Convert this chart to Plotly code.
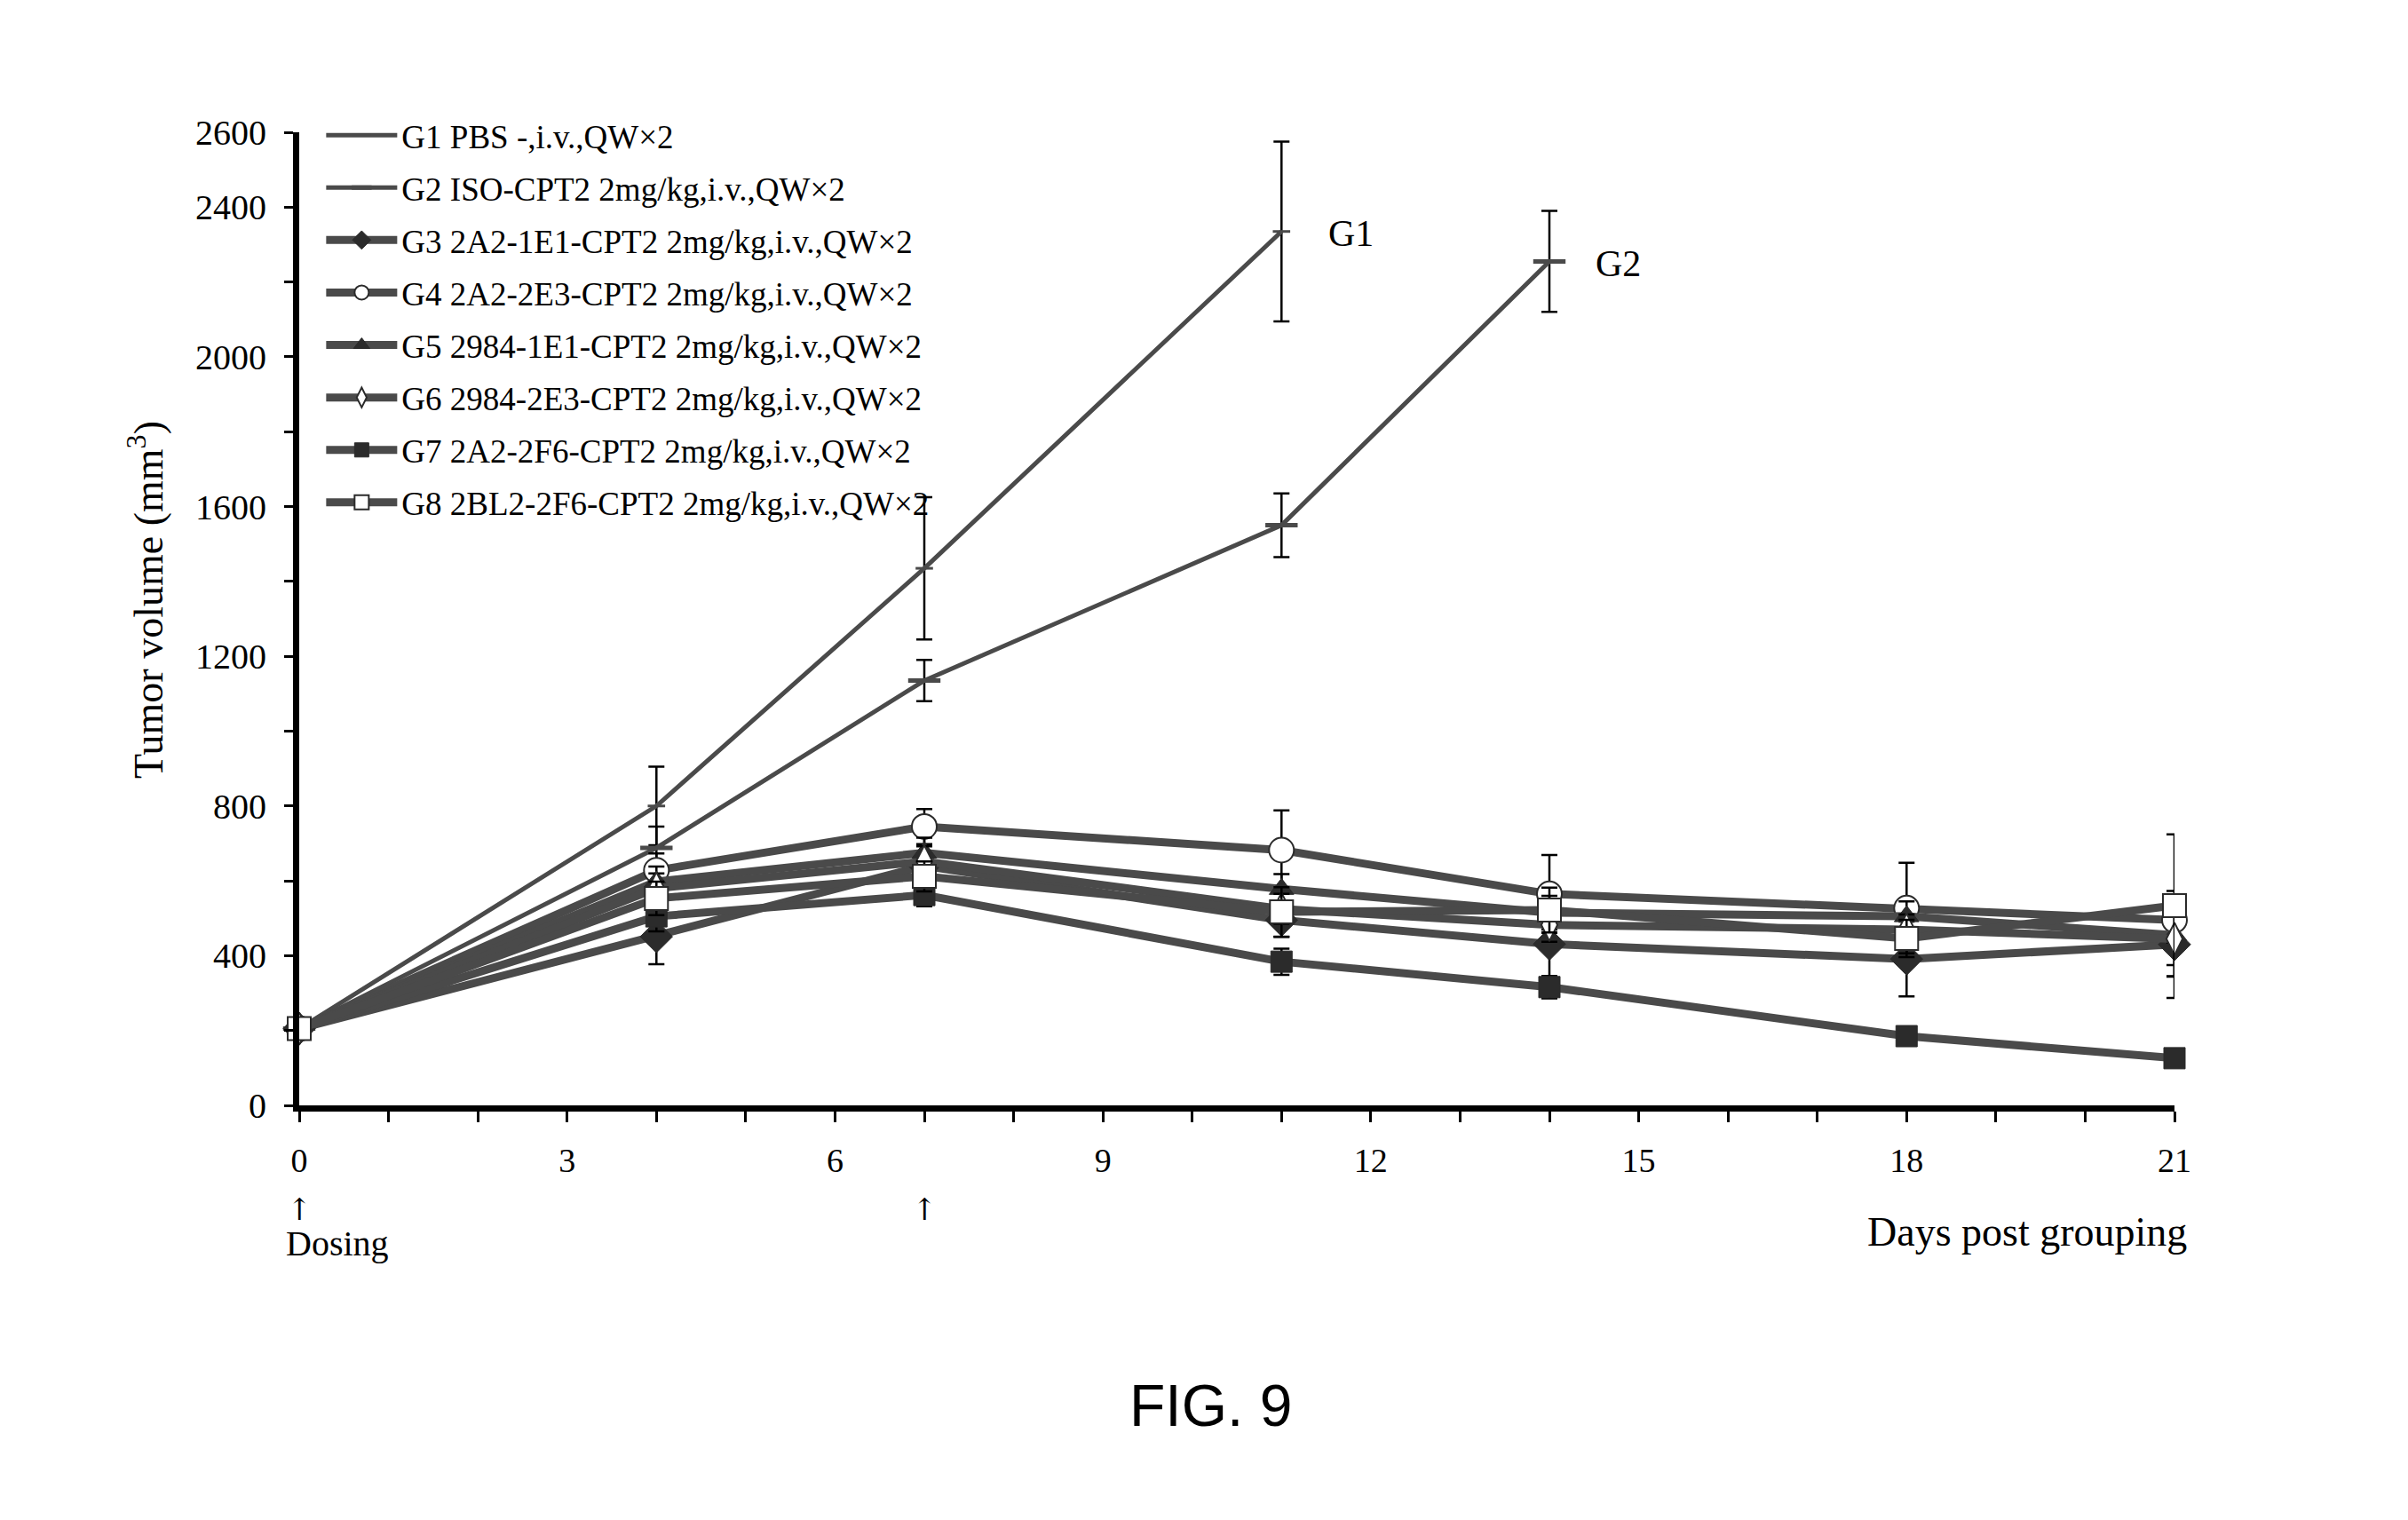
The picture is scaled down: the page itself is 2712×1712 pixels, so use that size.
import plotly.graph_objects as go

# ---------------- data ----------------
days_g1 = [0, 4, 7, 11]
days_g2 = [0, 4, 7, 11, 14]
days = [0, 4, 7, 11, 14, 18, 21]

names = [
    "G1 PBS -,i.v.,QW×2",
    "G2 ISO-CPT2 2mg/kg,i.v.,QW×2",
    "G3 2A2-1E1-CPT2 2mg/kg,i.v.,QW×2",
    "G4 2A2-2E3-CPT2 2mg/kg,i.v.,QW×2",
    "G5 2984-1E1-CPT2 2mg/kg,i.v.,QW×2",
    "G6 2984-2E3-CPT2 2mg/kg,i.v.,QW×2",
    "G7 2A2-2F6-CPT2 2mg/kg,i.v.,QW×2",
    "G8 2BL2-2F6-CPT2 2mg/kg,i.v.,QW×2",
]

g1 = [205, 800, 1435, 2335]
g1_err = [10, 105, 190, 240]
g2 = [205, 688, 1135, 1550, 2255]
g2_err = [10, 57, 55, 85, 135]
g3 = [205, 451, 640, 495, 431, 391, 430]
g3_err = [10, 74, 40, 45, 110, 100, 143]
g4 = [205, 628, 745, 682, 565, 527, 495]
g4_err = [10, 45, 47, 106, 104, 121, 60]
g5 = [205, 598, 675, 578, 515, 505, 455]
g5_err = [10, 40, 40, 40, 45, 40, 80]
g6 = [205, 580, 652, 525, 482, 470, 445]
g6_err = [10, 40, 40, 40, 45, 40, 100]
g7 = [205, 505, 562, 384, 316, 185, 126]
g7_err = [10, 40, 30, 35, 30, 25, 20]
g8 = [205, 553, 612, 517, 522, 446, 534]
g8_err = [10, 45, 40, 66, 60, 50, 190]

y_tickvals = [0, 400, 800, 1200, 1600, 2000, 2400, 2600]
y_ticktext = ["0", "400", "800", "1200", "1600", "2000", "2400", "2600"]
x_tickvals = [0, 3, 6, 9, 12, 15, 18, 21]
x_ticktext = ["0", "3", "6", "9", "12", "15", "18", "21"]

# ---------------- styling ----------------
LINE = "#4a4a4a"
DARK = "#2b2b2b"
SERIF = "Liberation Serif, Times New Roman, serif"

series = [
    (names[0], days_g1, g1, g1_err, dict(symbol="line-ew-open", size=14, color=LINE, line=dict(color=DARK, width=3)), 5),
    (names[1], days_g2, g2, g2_err, dict(symbol="line-ew-open", size=26, color=LINE, line=dict(color=DARK, width=5)), 5),
    (names[2], days, g3, g3_err, dict(symbol="diamond", size=28, color=DARK, line=dict(color=DARK, width=1)), 9),
    (names[3], days, g4, g4_err, dict(symbol="circle", size=28, color="white", line=dict(color=DARK, width=2)), 9),
    (names[4], days, g5, g5_err, dict(symbol="triangle-up", size=24, color=DARK, line=dict(color=DARK, width=1)), 9),
    (names[5], days, g6, g6_err, dict(symbol="diamond-tall", size=26, color="white", line=dict(color=DARK, width=2)), 9),
    (names[6], days, g7, g7_err, dict(symbol="square", size=24, color=DARK, line=dict(color=DARK, width=1)), 9),
    (names[7], days, g8, g8_err, dict(symbol="square", size=26, color="white", line=dict(color=DARK, width=2)), 9),
]

fig = go.Figure()
for name, xs, ys, es, mk, lw in series:
    fig.add_trace(go.Scatter(
        x=xs, y=ys, name=name, mode="lines+markers",
        line=dict(color=LINE, width=lw),
        marker=mk,
        error_y=dict(type="data", array=es, visible=True, color="black", thickness=2.5, width=9),
        legendgroup=name,
        cliponaxis=False,
    ))

W, H = 2712, 1712
L, R, T, B = 337, 263, 149, 467

annotations = []
label_font = dict(family=SERIF, size=42, color="black")
for txt, x, y in [("G1", 11.5, 2330), ("G2", 14.5, 2250), ("G4, G8", 21.43, 565),
                  ("G5, G6", 21.43, 429), ("G3", 21.43, 292), ("G7", 21.43, 123)]:
    annotations.append(dict(text=txt, x=x, y=y, xref="x", yref="y", xanchor="left",
                            yanchor="middle", showarrow=False, font=label_font))

annotations += [
    dict(text="Days post grouping", x=1.0076, y=-0.13, xref="paper", yref="paper",
         xanchor="right", yanchor="middle", showarrow=False,
         font=dict(family=SERIF, size=46, color="black")),
    dict(text="Dosing", x=-0.008, y=-0.142, xref="paper", yref="paper",
         xanchor="left", yanchor="middle", showarrow=False,
         font=dict(family=SERIF, size=40, color="black")),
    dict(text="↑", x=0.0, y=-0.107, xref="paper", yref="paper", xanchor="center",
         yanchor="middle", showarrow=False, font=dict(family="DejaVu Serif", size=34, color="black")),
    dict(text="↑", x=7 / 21, y=-0.107, xref="paper", yref="paper", xanchor="center",
         yanchor="middle", showarrow=False, font=dict(family="DejaVu Serif", size=34, color="black")),
    dict(text="FIG. 9", x=0.486, y=-0.308, xref="paper", yref="paper",
         xanchor="center", yanchor="middle", showarrow=False,
         font=dict(family="Liberation Sans, Arial, sans-serif", size=66, color="black")),
    dict(text="Tumor volume (mm<sup>3</sup>)", x=-0.082, y=0.52, xref="paper", yref="paper",
         xanchor="center", yanchor="middle", textangle=-90, showarrow=False,
         font=dict(family=SERIF, size=46, color="black")),
]

fig.update_layout(
    width=W, height=H,
    margin=dict(l=L, r=R, t=T, b=B, pad=0),
    paper_bgcolor="white", plot_bgcolor="white",
    showlegend=True,
    legend=dict(x=0.012, y=1.025, xanchor="left", yanchor="top",
                font=dict(family=SERIF, size=37, color="black"),
                bgcolor="rgba(0,0,0,0)", traceorder="grouped", tracegroupgap=8,
                itemwidth=80),
    annotations=annotations,
)

fig.update_xaxes(
    range=[0, 21], showgrid=False, zeroline=False,
    showline=True, linewidth=7, linecolor="black",
    tickmode="array", tickvals=x_tickvals, ticktext=x_ticktext,
    ticks="outside", ticklen=12, tickwidth=2.5, tickcolor="black",
    ticklabelstandoff=10,
    minor=dict(dtick=1, ticks="outside", ticklen=12, tickwidth=2.5, tickcolor="black"),
    tickfont=dict(family=SERIF, size=38, color="black"),
)
fig.update_yaxes(
    range=[0, 2600], showgrid=False, zeroline=False,
    showline=True, linewidth=7, linecolor="black",
    tickmode="array", tickvals=y_tickvals, ticktext=y_ticktext,
    ticks="outside", ticklen=10, tickwidth=2.5, tickcolor="black",
    ticklabelstandoff=12,
    minor=dict(dtick=200, ticks="outside", ticklen=10, tickwidth=2.5, tickcolor="black"),
    tickfont=dict(family=SERIF, size=40, color="black"),
)

fig.write_html("out.html")
